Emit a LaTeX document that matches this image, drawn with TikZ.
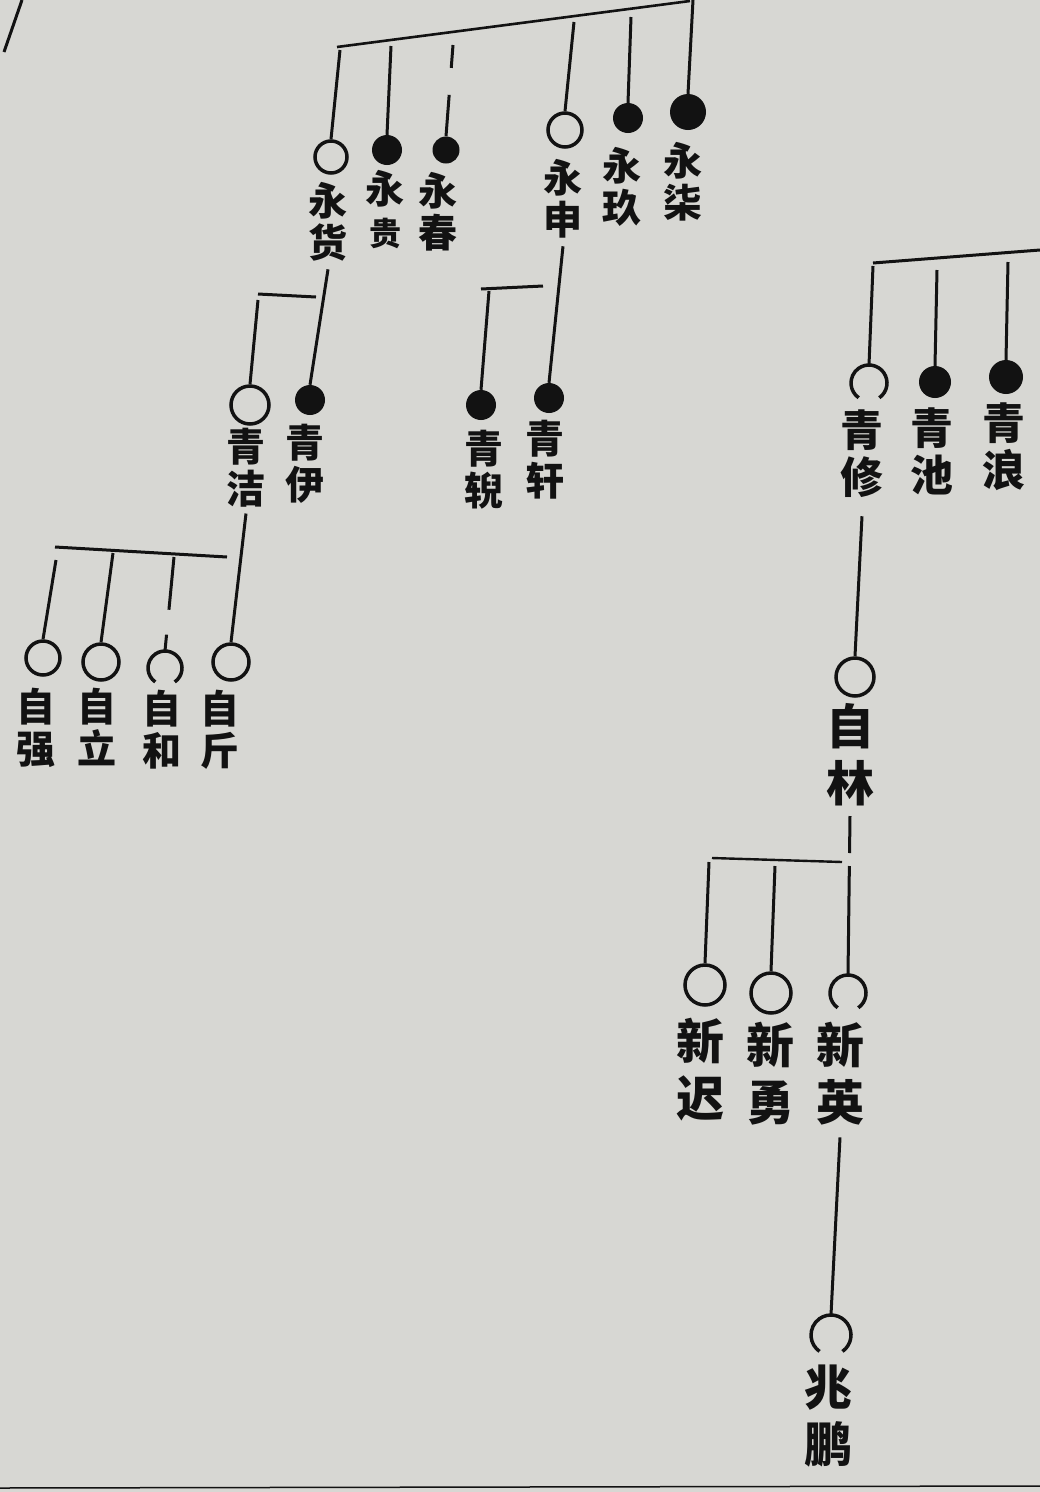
\documentclass[tikz,border=0pt]{standalone}
\usepackage{fontspec}
\newfontfamily\cjk{Noto Sans CJK SC}
\definecolor{paper}{RGB}{215,215,211}
\definecolor{ink}{RGB}{18,18,18}

\tikzset{
	lnk/.style={draw=ink,line width=3pt},
	full/.style={circle,fill=ink,inner sep=0pt,minimum size=30pt},
	hollow/.style={circle,draw=ink,line width=3.5pt,inner sep=0pt,minimum size=32pt},
	gapped/.style={circle,inner sep=0pt,minimum size=34pt},
	tag/.style={font=\cjk\bfseries\fontsize{39}{42}\selectfont,align=center,inner sep=0pt,anchor=north,text=ink},
	tagmid/.style={tag,font=\cjk\bfseries\fontsize{43}{47}\selectfont},
	tagbig/.style={tag,font=\cjk\bfseries\fontsize{48}{57}\selectfont}
}

\begin{document}
\begin{tikzpicture}[x=1pt,y=1pt]
	\fill[paper] (0,0) rectangle (1040,-1492);
	\useasboundingbox (0,0) rectangle (1040,-1492);
	% page edges
	\draw[lnk,line width=3pt] (22,0) -- (4,-52);
	\draw[lnk,line width=1.5pt] (0,-1488) -- (1040,-1486);
	
	% Yong
	\coordinate (ybarl) at (337,-47);
	\coordinate (ybarr) at (690,-1);
	\draw[lnk,line width=2.6pt] (ybarl) -- (ybarr);
	\node[hollow] (yh) at (331,-157) {};
	\node[full] (yg) at (387,-150) {};
	\node[full,minimum size=27pt] (yc) at (446,-150) {};
	\node[hollow,minimum size=34pt] (ys) at (565,-130) {};
	\node[full] (yj) at (628,-118) {};
	\node[full,minimum size=36pt] (yq) at (688,-112) {};
	\foreach \n/\x/\y in {yh/340/50,yg/391/46,ys/574/22,yj/631/17,yq/693/0}{
		\coordinate (\n top) at (\x,-\y);
		\draw[lnk] (\n top) -- (\n.north);
	}
	\coordinate (yc top) at (453,-45);
	\draw[lnk,dash pattern=on 23pt off 27pt on 100pt] (yc top) -- (yc.north);
	\node[tag] (lyh) at (328,-182) {永\\货};
	\node[tag] (lyg) at (385,-170) {永\\{\fontsize{32}{42}\selectfont 贵}};
	\node[tag] (lyc) at (438,-172) {永\\春};
	\node[tag] (lys) at (563,-159) {永\\申};
	\node[tag] (lyj) at (622,-147) {永\\玖};
	\node[tag] (lyq) at (683,-142) {永\\柒};
	
	% Qing, left
	\node[hollow,minimum size=38pt] (qj) at (250,-405) {};
	\node[full] (qy) at (310,-400) {};
	\node[full] (qn) at (481,-405) {};
	\node[full] (qx) at (549,-398) {};
	\draw[lnk] ([yshift=-8pt]lyh.south) -- (qy.north);
	\coordinate (hbar) at (258,-294);
	\draw[lnk] (hbar) -- ++(58,-3);
	\draw[lnk] ([yshift=-6pt]hbar) -- (qj.north);
	\draw[lnk] ([yshift=-8pt]lys.south) -- (qx.north);
	\coordinate (sbar) at (481,-289);
	\draw[lnk] (sbar) -- ++(62,3);
	\draw[lnk] ([xshift=8pt,yshift=-2pt]sbar) -- (qn.north);
	\node[tag] (lqj) at (246,-428) {青\\洁};
	\node[tag] (lqy) at (305,-424) {青\\伊};
	\node[tag] (lqn) at (484,-430) {青\\𫐐};
	\node[tag] (lqx) at (545,-420) {青\\轩};
	
	% Zi, left
	\node[hollow,minimum size=34pt] (zq) at (43,-658) {};
	\node[hollow,minimum size=36pt] (zl) at (101,-662) {};
	\node[gapped] (zh) at (165,-668) {};
	\node[hollow,minimum size=36pt] (zc) at (231,-662) {};
	\draw[lnk] ([yshift=-6pt]lqj.south) -- (zc.north);
	\coordinate (jbarl) at (55,-547);
	\coordinate (jbarr) at (227,-557);
	\draw[lnk] (jbarl) -- (jbarr);
	\foreach \n/\x/\y in {zq/56/560,zl/113/553}{
		\coordinate (\n top) at (\x,-\y);
		\draw[lnk] (\n top) -- (\n.north);
	}
	\coordinate (zh top) at (174,-557);
	\draw[lnk,dash pattern=on 53pt off 25pt on 100pt] (zh top) -- (zh.north);
	\node[tag] (lzq) at (36,-688) {自\\强};
	\node[tag] (lzl) at (97,-688) {自\\立};
	\node[tag] (lzh) at (162,-690) {自\\和};
	\node[tag] (lzc) at (220,-690) {自\\斤};
	
	% Qing, right
	\coordinate (rbarl) at (873,-263);
	\coordinate (rbarr) at (1040,-250);
	\draw[lnk] (rbarl) -- (rbarr);
	\node[gapped,minimum size=36pt] (qxi) at (869,-383) {};
	\node[full,minimum size=32pt] (qc) at (935,-382) {};
	\node[full,minimum size=34pt] (ql) at (1006,-377) {};
	\foreach \n/\x/\y in {qxi/873/266,qc/937/270,ql/1008/262}{
		\coordinate (\n top) at (\x,-\y);
		\draw[lnk] (\n top) -- (\n.north);
	}
	\node[tagmid] (lqxi) at (862,-410) {青\\修};
	\node[tagmid] (lqc) at (932,-408) {青\\池};
	\node[tagmid] (lql) at (1004,-403) {青\\浪};
	
	% Zilin
	\node[hollow,minimum size=38pt] (zlin) at (855,-677) {};
	\draw[lnk] ([yshift=-18pt]lqxi.south) -- (zlin.north);
	\node[tagbig] (lzlin) at (850,-703) {自\\林};
	
	% Xin
	\node[hollow,minimum size=40pt] (xc) at (705,-985) {};
	\node[hollow,minimum size=40pt] (xy) at (771,-993) {};
	\node[gapped,minimum size=36pt] (xe) at (848,-993) {};
	\draw[lnk,dash pattern=on 37pt off 13pt on 300pt] ([yshift=-10pt]lzlin.south) -- (xe.north);
	\coordinate (lbarl) at (712,-858);
	\coordinate (lbarr) at (842,-862);
	\draw[lnk,line width=2.4pt] (lbarl) -- (lbarr);
	\foreach \n/\x/\y in {xc/709/862,xy/775/866}{
		\coordinate (\n top) at (\x,-\y);
		\draw[lnk] (\n top) -- (\n.north);
	}
	\node[tagbig] (lxc) at (700,-1018) {新\\迟};
	\node[tagbig] (lxy) at (770,-1022) {新\\勇};
	\node[tagbig] (lxe) at (840,-1022) {新\\英};
	
	% Zhaopeng
	\node[gapped,minimum size=40pt] (zp) at (831,-1335) {};
	\draw[lnk] ([yshift=-12pt]lxe.south) -- (zp.north);
	\node[tagbig] (lzp) at (828,-1365) {兆\\鹏};
	
	% open arcs
	\foreach \n/\r in {zh/17,qxi/18,xe/18,zp/20}
		\draw[lnk,line width=3.5pt] ([shift={(-55:\r)}]\n.center) arc[start angle=-55,end angle=235,radius=\r];
\end{tikzpicture}
\end{document}
